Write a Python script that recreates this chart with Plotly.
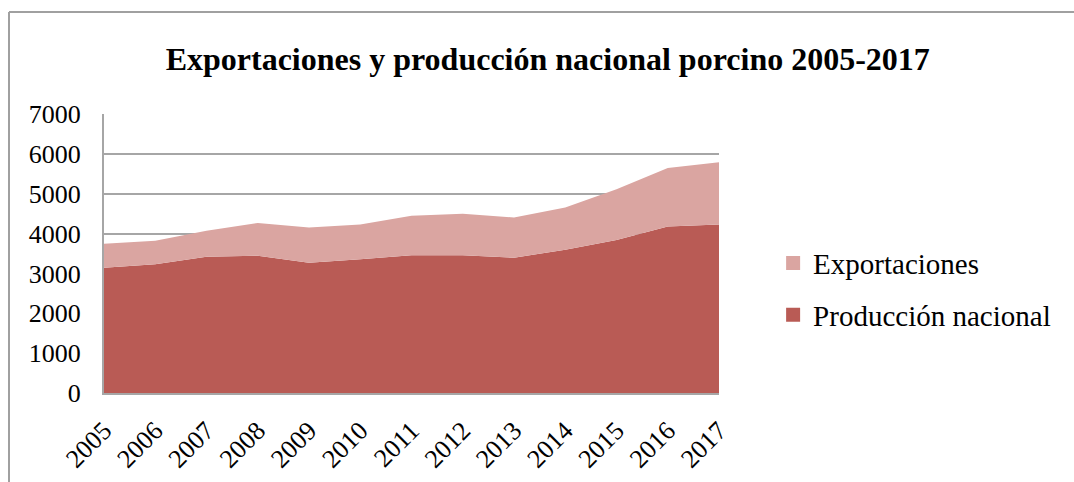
import plotly.graph_objects as go

# Porcine production and exports, 2005-2017
years = [2005, 2006, 2007, 2008, 2009, 2010, 2011, 2012, 2013, 2014, 2015, 2016, 2017]
produccion = [3145, 3230, 3420, 3445, 3270, 3355, 3455, 3455, 3395, 3595, 3840, 4175, 4225]
exportaciones = [600, 590, 650, 820, 880, 870, 990, 1040, 1010, 1060, 1270, 1470, 1565]
y_ticks = [0, 1000, 2000, 3000, 4000, 5000, 6000, 7000]

DARK = "#B95B55"
LIGHT = "#DAA5A1"
GRID = "#A6A6A6"
FONT = "Liberation Serif"

fig = go.Figure()
# Stacked areas (legend drawn with square swatches below)
fig.add_trace(go.Scatter(
    x=years, y=produccion, name="Producción nacional",
    stackgroup="one", mode="none", fillcolor=DARK, showlegend=False,
))
fig.add_trace(go.Scatter(
    x=years, y=exportaciones, name="Exportaciones",
    stackgroup="one", mode="none", fillcolor=LIGHT, showlegend=False,
))
# Legend swatches
for name, color, rank in [("Exportaciones", LIGHT, 1), ("Producción nacional", DARK, 2)]:
    fig.add_trace(go.Scatter(
        x=[None], y=[None], name=name, mode="markers",
        marker=dict(symbol="square", size=14, color=color),
        legendgroup=name, legendrank=rank, showlegend=True,
    ))

fig.update_layout(
    width=1074, height=482,
    margin=dict(l=104, r=355, t=114, b=89, autoexpand=False),
    paper_bgcolor="white", plot_bgcolor="white",
    font=dict(family=FONT, color="black"),
    title=dict(
        text="<b>Exportaciones y producción nacional porcino 2005-2017</b>",
        x=0.51, xanchor="center", y=0.878, yanchor="middle",
        font=dict(family=FONT, size=32, color="black"),
    ),
    showlegend=True,
    legend=dict(
        x=1.088, xanchor="left", y=0.372, yanchor="middle",
        traceorder="grouped", tracegroupgap=11, itemwidth=30,
        font=dict(family=FONT, size=29, color="black"),
        bgcolor="rgba(0,0,0,0)",
    ),
    xaxis=dict(
        range=[2005, 2017], tickvals=years, ticktext=[str(y) for y in years],
        tickangle=-45, tickfont=dict(family=FONT, size=26, color="black"),
        showgrid=False, zeroline=False, automargin=False,
        showline=True, linecolor=GRID, linewidth=2,
        ticks="", ticklabelstandoff=10, fixedrange=True,
    ),
    yaxis=dict(
        range=[0, 7000], tickvals=y_ticks,
        tickfont=dict(family=FONT, size=26, color="black"),
        showgrid=True, gridcolor=GRID, gridwidth=2,
        zeroline=False, showline=True, linecolor=GRID, linewidth=2,
        ticks="", ticklabelstandoff=16, automargin=False,
    ),
)

# Frame around the chart (top and left edges)
fig.add_shape(type="line", xref="paper", yref="paper",
              x0=(9 - 104) / 615, x1=(1074 - 104) / 615,
              y0=(393 - 12) / 279, y1=(393 - 12) / 279,
              line=dict(color="#A0A0A0", width=2), layer="above")
fig.add_shape(type="line", xref="paper", yref="paper",
              x0=(9 - 104) / 615, x1=(9 - 104) / 615,
              y0=(393 - 12) / 279, y1=(393 - 482) / 279,
              line=dict(color="#A0A0A0", width=2), layer="above")

fig.write_html("out.html")
